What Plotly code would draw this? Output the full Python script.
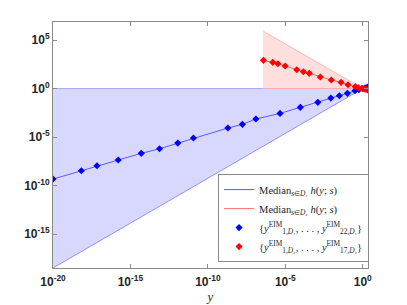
import plotly.graph_objects as go

# ---- data (log10 values) ----
blue_logx = [-20.00, -18.17, -17.16, -15.79, -14.30, -13.12, -11.94, -10.93, -8.71, -7.77,
             -6.90, -5.34, -4.03, -2.90, -2.06, -1.51, -0.99, -0.50, -0.25, 0.00, 0.15, 0.30]
blue_logy = [-9.33, -8.47, -7.96, -7.37, -6.68, -6.21, -5.62, -5.10, -4.07, -3.69,
             -3.14, -2.56, -1.94, -1.42, -0.98, -0.74, -0.49, -0.23, -0.12, 0.00, 0.07, 0.14]

red_logx = [-6.41, -5.81, -5.48, -5.01, -4.26, -3.83, -3.45, -2.74, -2.03, -1.40,
            -0.95, -0.48, -0.28, -0.05, 0.10, 0.21, 0.32]
red_logy = [2.91, 2.70, 2.56, 2.32, 1.94, 1.73, 1.57, 1.19, 0.88, 0.64,
            0.39, 0.19, 0.08, 0.02, -0.04, -0.08, -0.15]

# envelope (min / max over s) of each set
blue_env_logx = [-20.0, 0.0, 0.32]
blue_env_low = [-18.5, 0.0, 0.0]
blue_env_high = [0.0, 0.0, 0.30]

red_env_logx = [-6.44, 0.0, 0.32]
red_env_low = [0.0, 0.0, -0.29]
red_env_high = [5.93, 0.0, 0.0]

x_ticks = [-20, -15, -10, -5, 0]
y_ticks = [-15, -10, -5, 0, 5]

p = lambda a: [10 ** v for v in a]

fig = go.Figure()

# blue envelope
fig.add_trace(go.Scatter(x=p(blue_env_logx), y=p(blue_env_low), mode="lines",
                         line=dict(color="rgba(120,120,255,0.8)", width=1),
                         showlegend=False, hoverinfo="skip"))
fig.add_trace(go.Scatter(x=p(blue_env_logx), y=p(blue_env_high), mode="lines",
                         line=dict(color="rgba(150,150,255,0.8)", width=1),
                         fill="tonexty", fillcolor="rgba(216,216,255,1)",
                         showlegend=False, hoverinfo="skip"))
# red envelope
fig.add_trace(go.Scatter(x=p(red_env_logx), y=p(red_env_low), mode="lines",
                         line=dict(color="rgba(255,170,170,0.8)", width=1),
                         showlegend=False, hoverinfo="skip"))
fig.add_trace(go.Scatter(x=p(red_env_logx), y=p(red_env_high), mode="lines",
                         line=dict(color="rgba(255,170,170,0.8)", width=1),
                         fill="tonexty", fillcolor="rgba(255,216,216,0.85)",
                         showlegend=False, hoverinfo="skip"))

# median lines
fig.add_trace(go.Scatter(x=p(blue_logx), y=p(blue_logy), mode="lines",
                         line=dict(color="rgb(90,90,255)", width=1),
                         name="Median<sub><i>s</i>∈<i>D</i>₁</sub> <i>h</i>(<i>y</i>; <i>s</i>)"))
fig.add_trace(go.Scatter(x=p(red_logx), y=p(red_logy), mode="lines",
                         line=dict(color="rgb(255,110,110)", width=1),
                         name="Median<sub><i>s</i>∈<i>D</i>₂</sub> <i>h</i>(<i>y</i>; <i>s</i>)"))
# markers
fig.add_trace(go.Scatter(x=p(blue_logx), y=p(blue_logy), mode="markers",
                         marker=dict(symbol="diamond", size=5.5, color="rgb(0,0,255)"),
                         name="{<i>y</i><sup>EIM</sup><sub>1,<i>D</i>₁</sub>, . . . , <i>y</i><sup>EIM</sup><sub>22,<i>D</i>₁</sub>}"))
fig.add_trace(go.Scatter(x=p(red_logx), y=p(red_logy), mode="markers",
                         marker=dict(symbol="diamond", size=5.5, color="rgb(255,0,0)"),
                         name="{<i>y</i><sup>EIM</sup><sub>1,<i>D</i>₂</sub>, . . . , <i>y</i><sup>EIM</sup><sub>17,<i>D</i>₂</sub>}"))

axis_common = dict(type="log", showline=True, mirror="allticks", linecolor="#8a8a8a",
                   linewidth=1, ticks="inside", ticklen=4, tickcolor="#8a8a8a",
                   showgrid=False, zeroline=False, automargin=False,
                   tickfont=dict(family="Liberation Sans, Arial", size=12, color="#262626"))

# the page body adds an 8 px offset; the figure is sized to sit at the same place
fig.update_layout(
    width=399, height=297,
    margin=dict(l=45, r=39, t=14, b=37),
    paper_bgcolor="white", plot_bgcolor="white",
    xaxis=dict(range=[-20, 0.34],
               tickvals=p(x_ticks),
               ticktext=[f"<b>10<sup>{v}</sup></b>" for v in x_ticks],
               ticklabelstandoff=3,
               title=dict(text="<i>y</i>", standoff=2,
                          font=dict(family="Liberation Serif, serif", size=13, color="#262626")),
               **axis_common),
    yaxis=dict(range=[-18.5, 6.86],
               tickvals=p(y_ticks),
               ticktext=[f"<b>10<sup>{v}</sup></b>" for v in y_ticks],
               **axis_common),
    legend=dict(x=0.524, y=0.024, xanchor="left", yanchor="bottom",
                bgcolor="white", bordercolor="#8a8a8a", borderwidth=1,
                font=dict(family="Liberation Serif, serif", size=10.5, color="#262626"),
                traceorder="normal", tracegroupgap=0, itemwidth=30),
    showlegend=True,
)

fig.write_html("out.html")
